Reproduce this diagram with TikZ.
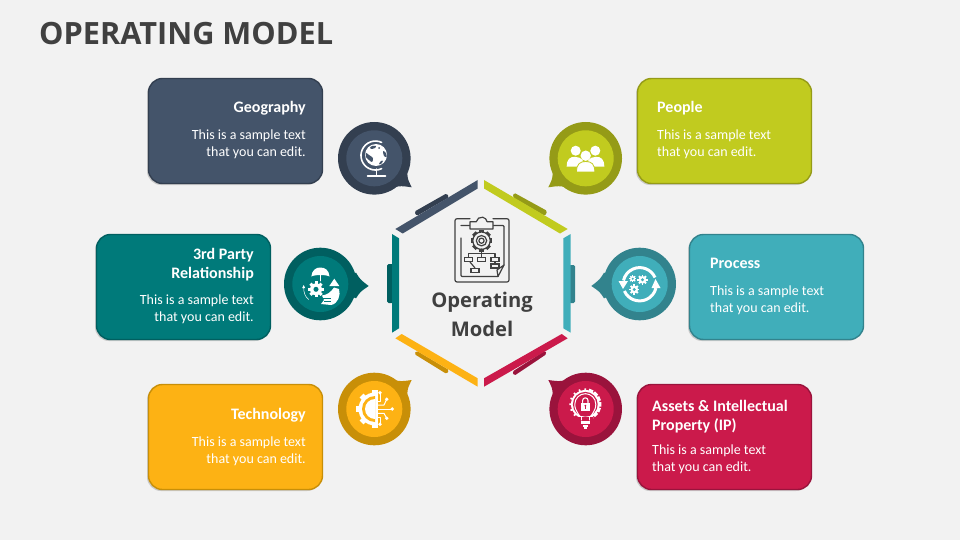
\documentclass[tikz,border=0pt]{standalone}
\usepackage{fontspec}
\setmainfont{Carlito}
\newfontfamily\headfont{Open Sans}
\definecolor{paper}{RGB}{242,242,242}
\definecolor{ink}{RGB}{64,64,64}
\definecolor{slate}{RGB}{68,84,106}
\definecolor{slatedark}{RGB}{51,63,80}
\definecolor{olive}{RGB}{193,203,31}
\definecolor{olivedark}{RGB}{149,155,23}
\definecolor{teal}{RGB}{0,122,122}
\definecolor{tealdark}{RGB}{0,95,96}
\definecolor{aqua}{RGB}{64,174,186}
\definecolor{aquadark}{RGB}{50,131,141}
\definecolor{amber}{RGB}{253,178,20}
\definecolor{amberdark}{RGB}{200,143,8}
\definecolor{crimson}{RGB}{203,26,75}
\definecolor{crimsondark}{RGB}{154,19,60}
\usetikzlibrary{shadows,calc}
\tikzset{
  cardbox/.style={rectangle,rounded corners=14pt,minimum width=174pt,minimum height=105pt,line width=1.4pt,
    drop shadow={shadow xshift=-1.5pt,shadow yshift=-1.5pt,opacity=.35}},
  headlabel/.style={text=white,inner sep=0pt,font=\fontsize{16}{19}\selectfont\bfseries},
  bodylabel/.style={text=white,inner sep=0pt,font=\fontsize{14}{17}\selectfont},
  iconline/.style={draw=white,line width=1pt,line cap=round,line join=round},
  plainline/.style={draw=ink,line width=1.2pt,line cap=round,line join=round},
  flowbox/.style={draw=ink,line width=1.1pt,fill=paper}
}
\newcommand{\sampletext}{This is a sample text\\that you can edit.}
\newcommand{\cogwheel}[4]{%
  \foreach \a in {0,45,...,135}
    \fill[white,rotate around={\a:(#1,#2)}] ({#1-#3*0.25},{#2-#3*1.32}) rectangle ({#1+#3*0.25},{#2+#3*1.32});
  \fill[white] (#1,#2) circle ({#3});
  \fill[#4] (#1,#2) circle ({#3*0.42});
}
\begin{document}
\begin{tikzpicture}[x=1pt,y=-1pt]
  \useasboundingbox (0,0) rectangle (960,540);
  \fill[paper] (0,0) rectangle (960,540);
  \node[anchor=base west,inner sep=0pt,text=ink,font=\headfont\fontsize{30.7}{36}\selectfont\bfseries] (title) at (39,45) {OPERATING MODEL};

  % cards
  \foreach \name/\cx/\cy/\light/\dark in {geography/235.5/131/slate/slatedark, people/724.5/131/olive/olivedark,
      partner/183.5/287/teal/tealdark, process/776.5/287/aqua/aquadark,
      technology/235.5/437/amber/amberdark, assets/724.5/437/crimson/crimsondark}
    \node[cardbox,fill=\light,draw=\dark] (\name) at (\cx,\cy) {};

  \node[headlabel,anchor=base east] (geographyhead) at (306,112.5) {Geography};
  \node[bodylabel,anchor=north east,align=right] (geographytext) at (306,130) {\sampletext};
  \node[headlabel,anchor=base west] (peoplehead) at (657,112.5) {People};
  \node[bodylabel,anchor=north west,align=left] (peopletext) at (657,130) {\sampletext};
  \node[headlabel,anchor=north east,align=right] (partnerhead) at (254,248) {3rd Party\\Relationship};
  \node[bodylabel,anchor=north east,align=right] (partnertext) at (254,295) {\sampletext};
  \node[headlabel,anchor=base west] (processhead) at (710,268.5) {Process};
  \node[bodylabel,anchor=north west,align=left] (processtext) at (710,286) {\sampletext};
  \node[headlabel,anchor=base east] (technologyhead) at (306,419.5) {Technology};
  \node[bodylabel,anchor=north east,align=right] (technologytext) at (306,437) {\sampletext};
  \node[headlabel,anchor=north west,align=left] (assetshead) at (652,400) {Assets \& Intellectual\\Property (IP)};
  \node[bodylabel,anchor=north west,align=left] (assetstext) at (652,445) {\sampletext};

  % hexagon
  \fill[slatedark,rounded corners=1.5pt] (414.3,211.7) -- (446.7,193.3) -- (449,197.3) -- (416.7,216) -- cycle;
  \fill[slate] (477.7,180) -- (477.7,188.5) -- (402.7,233.5) -- (395.3,229) -- cycle;
  \fill[olivedark,rounded corners=1.5pt] (514,192.7) -- (547.3,211) -- (545,216) -- (512.7,197.3) -- cycle;
  \fill[olive] (484,180) -- (484,188.5) -- (560,233.5) -- (567.7,229) -- cycle;
  \fill[tealdark,rounded corners=1.5pt] (387,264) rectangle (393,303);
  \fill[teal] (392,234) -- (399,238.3) -- (399,328.3) -- (392,332.7) -- cycle;
  \fill[aquadark,rounded corners=1.5pt] (569,265) rectangle (575,303);
  \fill[aqua] (563.3,238.3) -- (570.7,234) -- (570.7,332.7) -- (563.3,328.3) -- cycle;
  \fill[amberdark,rounded corners=1.5pt] (414.3,354) -- (416.7,350.7) -- (449,370) -- (446.7,374) -- cycle;
  \fill[amber] (395.3,338.3) -- (401.7,334) -- (477.7,378.3) -- (477.7,386.7) -- cycle;
  \fill[crimsondark,rounded corners=1.5pt] (546.7,354) -- (545,350.7) -- (512.3,371.7) -- (514.3,375.7) -- cycle;
  \fill[crimson] (567.7,338.3) -- (561.7,334) -- (484,378.3) -- (484,386.7) -- cycle;

  % bubbles
  \foreach \cx/\cy/\tx/\ty/\ax/\ay/\bx/\by/\light/\dark in {
      374.3/158.3/411.7/187.3/407.3/173.3/393.3/187.3/slate/slatedark,
      585.7/158.3/548.3/187.3/552.7/173.3/566.7/187.3/olive/olivedark,
      320.3/284/368.7/286/356/272.7/356/298.3/teal/tealdark,
      639.7/284/591.3/286/604/272.7/604/298.3/aqua/aquadark,
      374.3/409/411.7/380/407.3/394/393.3/380/amber/amberdark,
      585.7/409/548.3/380/552.7/394/566.7/380/crimson/crimsondark} {
    \fill[\dark] (\cx,\cy) circle (36.3);
    \fill[\dark] (\ax,\ay) .. controls ($(\ax,\ay)!.5!(\tx,\ty)!.05!(\cx,\cy)$) .. (\tx,\ty)
      .. controls ($(\bx,\by)!.5!(\tx,\ty)!.05!(\cx,\cy)$) .. (\bx,\by) -- (\cx,\cy) -- cycle;
    \fill[\light] (\cx,\cy) circle (28);
  }

  % globe
  \fill[white] (376,155) circle (11);
  \fill[slate] plot[smooth cycle] coordinates {(372,146) (376,146) (375,148) (372,149) (370,148)};
  \fill[slate] plot[smooth cycle] coordinates {(383,151) (386,153) (386.5,157) (384,156)};
  \fill[slate] plot[smooth cycle] coordinates {(366,153) (369,155) (373,158) (372,162) (369,160) (366,157)};
  \fill[slate] plot[smooth cycle] coordinates {(381,161) (383,161) (381,164) (379,164)};
  \fill[slate] (379,148) circle (1);
  \draw[iconline,line width=1.6pt] (381.6,142.4) arc[start angle=-65,end angle=-295,radius=14.5];
  \draw[iconline,line width=1.5pt] (376.5,169) -- (376.5,175.7);
  \draw[iconline,line width=1.5pt] (367.5,176) -- (385.5,176);

  % people
  \fill[white] (575.7,150.7) circle (5);
  \fill[white] (595.3,150.7) circle (5);
  \fill[white] (566.7,166.7) .. controls (566.7,159) and (570,156.8) .. (575,156.8) .. controls (578.5,156.8) and (581,158) .. (583,161) -- (578,166.7) -- cycle;
  \fill[white] (604.3,166.7) .. controls (604.3,159) and (601,156.8) .. (596,156.8) .. controls (592.5,156.8) and (590,158) .. (588,161) -- (593,166.7) -- cycle;
  \fill[white] (585.7,155.7) circle (5.2);
  \fill[white,draw=olive,line width=.8pt] (576.5,172) .. controls (576.5,164) and (580,161.5) .. (585.7,161.5) .. controls (591.5,161.5) and (594.8,164) .. (594.8,172) -- cycle;

  % umbrella, cog and hand
  \fill[white] (311.3,276.5) .. controls (312,270) and (316,267.5) .. (320.3,267.5) .. controls (325,267.5) and (329,270) .. (329.5,276.5) .. controls (326,274.5) and (315,274.5) .. (311.3,276.5) -- cycle;
  \draw[iconline,line width=.8pt] (320.3,274) -- (320.3,281);
  \cogwheel{316}{289.3}{6}{teal}
  \fill[white] (334.3,278.7) -- (339.3,286) -- (329.3,286) -- cycle;
  \fill[white] (322,295.5) .. controls (327,295) and (331,292) .. (334,287.5) -- (339,289) .. controls (341,295) and (338,304) .. (331,305) -- (321,304) -- (324,300) -- cycle;
  \draw[draw=teal,line width=.6pt] (323,298) -- (331,298) (324,301) -- (331,301);
  \draw[iconline,line width=.5pt] (303.7,288) .. controls (303.7,292) and (305,297) .. (308.7,299.5);
  \fill[white] (303.7,285) -- (305.2,288) -- (302.2,288) -- cycle;

  % turning arrows and cogs
  \draw[iconline,line width=3pt,line cap=butt] (655,277.5) arc[start angle=-24,end angle=-167,radius=16.7];
  \fill[white] (618.5,281) -- (628,281) -- (623,289) -- cycle;
  \draw[iconline,line width=3pt,line cap=butt] (624.4,291) arc[start angle=156,end angle=13,radius=16.7];
  \fill[white] (651.5,288) -- (660.5,288) -- (655.5,279) -- cycle;
  \cogwheel{632.7}{278.7}{2.6}{aqua}
  \cogwheel{642.5}{279.8}{3.8}{aqua}
  \cogwheel{634.3}{289.5}{3.8}{aqua}

  % half cog and circuit
  \foreach \a in {-90,-45,0,45,90}
    \fill[white,rotate around={\a:(375,409)}] (356,406.2) rectangle (375,411.8);
  \fill[white] (375,392.5) arc[start angle=-90,end angle=-270,radius=16.5] -- cycle;
  \fill[amber] (375,396) arc[start angle=-90,end angle=-270,radius=13] -- cycle;
  \fill[white] (375,399) arc[start angle=-90,end angle=-270,radius=10] -- cycle;
  \foreach \ex/\ey in {380/392.7, 386.7/399.3, 392.3/409, 386.7/418.3, 380/424.3}
    \fill[white] (\ex,\ey) circle (1.9);
  \draw[iconline] (376.5,401.7) -- (380,401.7) -- (380,392.7);
  \draw[iconline] (376.5,405) -- (384,405) -- (386.7,399.3);
  \draw[iconline] (376.5,409) -- (392.3,409);
  \draw[iconline] (376.5,413.3) -- (384,413.3) -- (386.7,418.3);
  \draw[iconline] (376.5,417) -- (380,417) -- (380,424.3);

  % lamp and lock
  \foreach \a in {0,22.5,...,157.5}
    \fill[white,rotate around={\a:(585.3,404.3)}] (584.5,388.3) -- (586.1,388.3) -- (587.6,420.3) -- (583,420.3) -- cycle;
  \fill[white] (585.3,404.3) circle (14.3);
  \fill[crimson] (585.3,404.3) circle (12.4);
  \draw[iconline] (581,420) .. controls (580,414) and (574.8,412) .. (574.8,404.3) .. controls (574.8,398) and (580,393.7) .. (585.3,393.7) .. controls (590.7,393.7) and (595.8,398) .. (595.8,404.3) .. controls (595.8,412) and (590.5,414) .. (589.6,420) -- cycle;
  \fill[crimson] (578,420.5) rectangle (592.5,416.5);
  \draw[iconline] (581,416.5) -- (581,420) (589.6,416.5) -- (589.6,420);
  \fill[white] (581,420.5) rectangle (589.7,423.5);
  \fill[white] (582.5,424.5) rectangle (588.2,426.5);
  \fill[white] (584,427) rectangle (586.7,428.5);
  \fill[white] (581,402.5) rectangle (589.7,410.5);
  \draw[iconline,line width=1.1pt] (582.6,402.5) -- (582.6,400.5) arc[start angle=180,end angle=360,radius=2.7] -- (588,402.5);
  \fill[crimson] (585.3,405.7) circle (1);
  \fill[crimson] (584.8,406) rectangle (585.8,408.5);

  % clipboard
  \draw[plainline,rounded corners=2pt] (470,218.7) -- (455,218.7) -- (455,282) -- (509,282) -- (509,218.7) -- (493,218.7);
  \draw[plainline,rounded corners=1pt] (461,225.5) -- (470,225.5) (493,225.5) -- (504,225.5) -- (504,265);
  \draw[plainline,rounded corners=1pt] (461,238) -- (461,276.5) -- (498,276.5);
  \draw[plainline] (504,265) -- (498,276.5) -- (497,270) -- (504,265);
  \draw[plainline,fill=paper] (470,221.7) -- (476.3,221.7) arc[start angle=-170,end angle=-10,radius=5.5] -- (493,221.7) -- (493,229) -- (470,229) -- cycle;
  \foreach \a in {0,45,...,135}
    \fill[ink,rotate around={\a:(481.5,240.7)}] (479,229.9) rectangle (484,251.5);
  \fill[paper] (481.5,240.7) circle (8.7);
  \draw[plainline] (481.5,240.7) circle (8.7);
  \draw[plainline] (481.5,240.7) circle (5.2);
  \draw[plainline] (481.5,240.7) circle (2.6);
  \draw[plainline] (481.3,249) -- (481.3,255);
  \draw[plainline] (468.3,258) -- (468.3,253.3) -- (495,253.3) -- (495,258);
  \draw[plainline] (481.3,253.3) -- (481.3,258);
  \draw[plainline] (470,262) -- (475,268);
  \draw[plainline] (495,262) -- (495,264);
  \foreach \bx/\by in {468.3/259.3, 481.3/259.3, 495/259.3, 495/266, 475/270.5}
    \draw[flowbox] (\bx-4,\by-2) rectangle (\bx+4,\by+2);

  \node[align=center,inner sep=0pt,text=ink,font=\headfont\fontsize{20.2}{29}\selectfont\bfseries] (center) at (482,314) {Operating\\Model};
\end{tikzpicture}
\end{document}
